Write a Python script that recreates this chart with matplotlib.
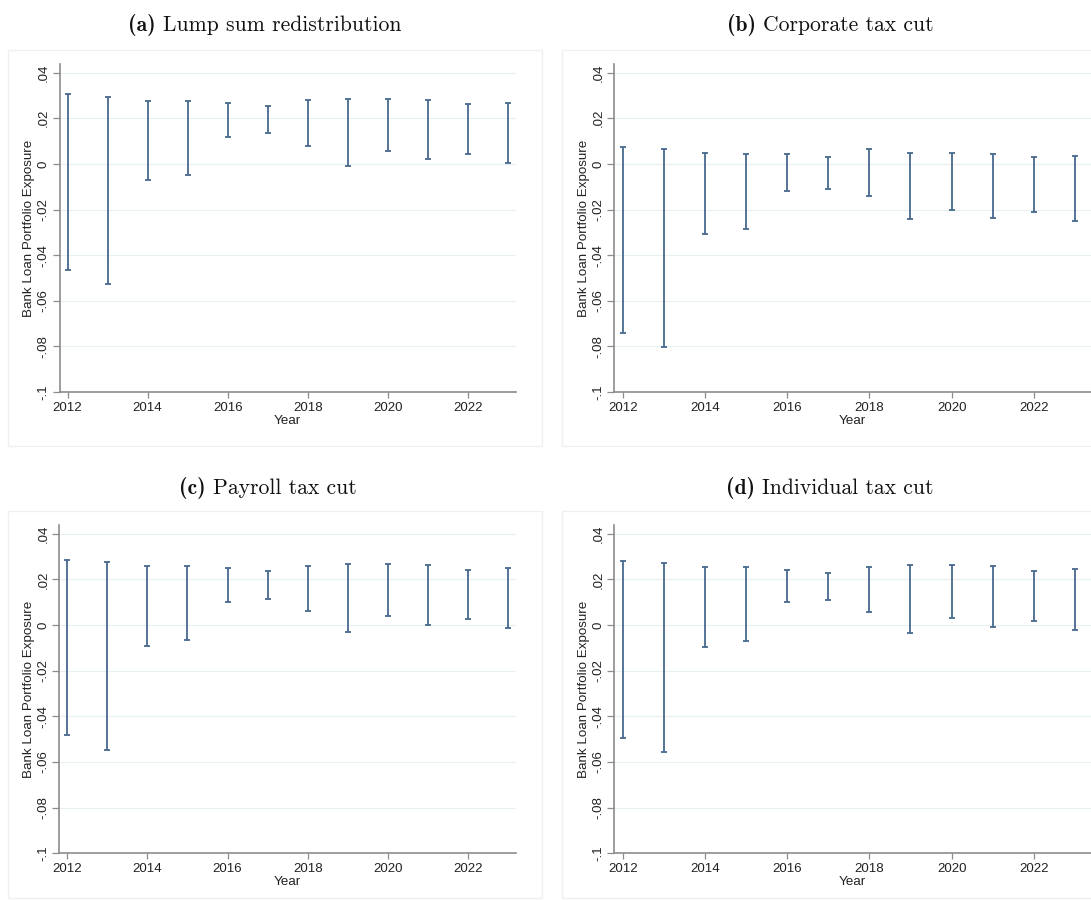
import numpy as np
from matplotlib import pyplot as plt
from matplotlib.patches import Rectangle

years = np.arange(2012, 2024)

# confidence intervals (upper, lower)
lump_hi = [0.0307, 0.0295, 0.0277, 0.0277, 0.0269, 0.0255, 0.0279, 0.0286, 0.0286, 0.0280, 0.0261, 0.0269]
lump_lo = [-0.0464, -0.0527, -0.0070, -0.0047, 0.0120, 0.0134, 0.0079, -0.0010, 0.0058, 0.0020, 0.0044, 0.0006]

corp_hi = [0.0076, 0.0064, 0.0048, 0.0044, 0.0044, 0.0029, 0.0066, 0.0047, 0.0048, 0.0045, 0.0029, 0.0034]
corp_lo = [-0.0740, -0.0803, -0.0309, -0.0285, -0.0117, -0.0108, -0.0142, -0.0241, -0.0200, -0.0238, -0.0210, -0.0251]

payroll_hi = [0.0286, 0.0277, 0.0260, 0.0258, 0.0248, 0.0235, 0.0260, 0.0269, 0.0269, 0.0261, 0.0242, 0.0248]
payroll_lo = [-0.0483, -0.0546, -0.0091, -0.0066, 0.0099, 0.0115, 0.0060, -0.0031, 0.0038, -0.0001, 0.0025, -0.0015]

indiv_hi = [0.0280, 0.0273, 0.0254, 0.0255, 0.0242, 0.0229, 0.0253, 0.0263, 0.0263, 0.0257, 0.0236, 0.0244]
indiv_lo = [-0.0495, -0.0558, -0.0096, -0.0072, 0.0099, 0.0111, 0.0057, -0.0035, 0.0031, -0.0009, 0.0019, -0.0022]

panel_tags = ["(a)", "(b)", "(c)", "(d)"]
panel_names = ["Lump sum redistribution", "Corporate tax cut", "Payroll tax cut", "Individual tax cut"]
yticks = [0.04, 0.02, 0, -0.02, -0.04, -0.06, -0.08, -0.1]
ytick_labels = [".04", ".02", "0", "-.02", "-.04", "-.06", "-.08", "-.1"]
xticks = [2012, 2014, 2016, 2018, 2020, 2022]

W, H = 1091, 900
plt.rcParams['font.family'] = ['Liberation Sans', 'DejaVu Sans']
fig = plt.figure(figsize=(W / 100, H / 100), dpi=100)

bar_color = '#47698f'
spine_color = '#8c8c8c'

# pixel boxes: (left, right, top, bottom) of axes; panel frame; title position
layout = [
    dict(ax=(59.5, 516, 64, 392), xlim=(2011.8, 2023.2), frame=(8, 542, 50, 446), title=(265, 25)),
    dict(ax=(614, 1091, 64, 392), xlim=(2011.79, 2023.39), frame=(562, 1095, 50, 446), title=(830, 25)),
    dict(ax=(59.3, 516, 525, 853.3), xlim=(2011.8, 2023.2), frame=(8, 542, 511, 898), title=(268, 488)),
    dict(ax=(614, 1091, 525, 853.3), xlim=(2011.79, 2023.39), frame=(562, 1095, 511, 898), title=(830, 488)),
]
series = [(lump_lo, lump_hi), (corp_lo, corp_hi), (payroll_lo, payroll_hi), (indiv_lo, indiv_hi)]

titles = []
for i, (lo, hi) in enumerate(series):
    lay = layout[i]
    fl, fr, ft, fb = lay['frame']
    fig.patches.append(Rectangle((fl / W, 1 - fb / H), (fr - fl) / W, (fb - ft) / H,
                                 transform=fig.transFigure, fill=False,
                                 edgecolor='#f0f0f0', linewidth=1.0, zorder=0))
    l, r, t, b = lay['ax']
    ax = fig.add_axes([l / W, 1 - b / H, (r - l) / W, (b - t) / H])
    lo = np.array(lo)
    hi = np.array(hi)
    mid = (lo + hi) / 2
    half = (hi - lo) / 2
    ax.errorbar(years, mid, yerr=half, fmt='none', ecolor=bar_color,
                elinewidth=1.3, capsize=2.3, capthick=1.3, zorder=3)
    ax.set_xlim(*lay['xlim'])
    ax.set_ylim(-0.1, 0.0438)
    ax.set_yticks(yticks)
    ax.set_yticklabels(ytick_labels, rotation=90, va='center')
    ax.set_xticks(xticks)
    ax.set_xticklabels([str(x) for x in xticks])
    ax.tick_params(axis='both', labelsize=9.5, colors=spine_color, labelcolor='#222222',
                   length=4, width=0.9, pad=3)
    ax.tick_params(axis='y', length=5, pad=2)
    for yt in yticks[:-1]:
        ax.axhline(yt, color='#e9f0f2', linewidth=0.9, zorder=1)
    for side in ['top', 'right']:
        ax.spines[side].set_visible(False)
    for side in ['left', 'bottom']:
        ax.spines[side].set_color(spine_color)
        ax.spines[side].set_linewidth(1.2)
    ax.set_xlabel("Year", fontsize=9.7, color='#222222', labelpad=1)
    ax.set_ylabel("Bank Loan Portfolio Exposure", fontsize=9.6, color='#222222', labelpad=2)

    tx, ty = lay['title']
    tag = fig.text(tx / W, 1 - ty / H, panel_tags[i], family='cmb10', fontsize=15.6,
                   ha='left', va='center', color='#111111')
    name = fig.text(tx / W, 1 - ty / H, panel_names[i], family='cmr10', fontsize=15.6,
                    ha='left', va='center', color='#111111')
    titles.append((tx, tag, name))

# centre each two-part title on its panel
renderer = fig.canvas.get_renderer()
gap = 7
for tx, tag, name in titles:
    wt = tag.get_window_extent(renderer).width
    wn = name.get_window_extent(renderer).width
    start = tx - (wt + gap + wn) / 2
    tag.set_x(start / W)
    name.set_x((start + wt + gap) / W)

fig.savefig("out.png", dpi=100)
